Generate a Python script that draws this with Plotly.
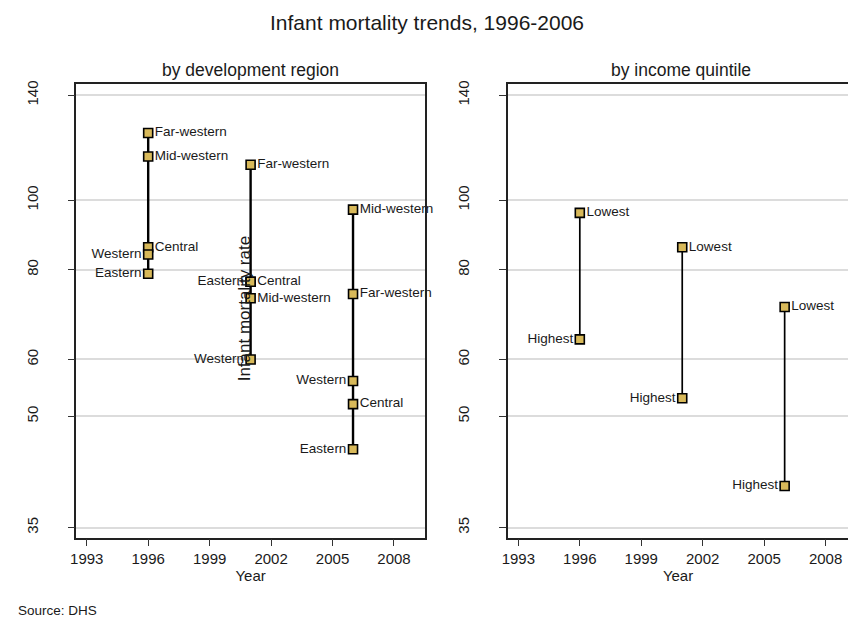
import plotly.graph_objects as go
import math

# ---------------- data ----------------
years = [1996, 2001, 2006]
regions = ["Eastern", "Central", "Western", "Mid-western", "Far-western"]
region_imr_1996 = [79, 86, 84, 115, 124]
region_imr_2001 = [77, 77, 60, 73, 112]
region_imr_2006 = [45, 52, 56, 97, 74]

quintiles = ["Lowest", "Highest"]
quintile_imr_1996 = [96, 64]
quintile_imr_2001 = [86, 53]
quintile_imr_2006 = [71, 40]

y_tickvals = [35, 50, 60, 80, 100, 140]
x_tickvals = [1993, 1996, 1999, 2002, 2005, 2008]

# label placement (style): which labels sit left of the marker
left_labels = {
    (1996, "Western"), (1996, "Eastern"),
    (2001, "Eastern"), (2001, "Western"),
    (2006, "Western"), (2006, "Eastern"),
    (1996, "Highest"), (2001, "Highest"), (2006, "Highest"),
}

FONT = "Liberation Sans, Arial, sans-serif"
W, H = 848, 624
MARK_FILL = "#d8b95a"
TXT = "#1a1a1a"

def px_x(p):
    return p / W

def px_y(p):
    return 1 - p / H

fig = go.Figure()

def add_panel(xref, yref, cats, series, lw):
    for yr, vals in zip(years, series):
        fig.add_trace(go.Scatter(
            x=[yr, yr], y=[min(vals), max(vals)], mode="lines",
            line=dict(color="black", width=lw), xaxis=xref, yaxis=yref,
            showlegend=False, hoverinfo="skip"))
        for side in ("right", "left"):
            xs, ys, ts = [], [], []
            for c, v in zip(cats, vals):
                is_left = (yr, c) in left_labels
                if (side == "left") == is_left:
                    xs.append(yr); ys.append(v); ts.append(c)
            if not xs:
                continue
            fig.add_trace(go.Scatter(
                x=xs, y=ys, text=ts, mode="markers+text",
                textposition="middle " + side, cliponaxis=False,
                textfont=dict(family=FONT, size=13.5, color=TXT),
                marker=dict(symbol="square", size=9, color=MARK_FILL,
                            line=dict(color="black", width=1.6)),
                xaxis=xref, yaxis=yref, showlegend=False))

add_panel("x", "y", regions, [region_imr_1996, region_imr_2001, region_imr_2006], 2.4)
add_panel("x2", "y2", quintiles, [quintile_imr_1996, quintile_imr_2001, quintile_imr_2006], 1.7)

px_per_year = (421.7 - 71) / 17.0
x2_max = 1992.5 + (W - 505.7) / px_per_year
yr_lo, yr_hi = math.log10(33.9), math.log10(144.9)

common_x = dict(
    tickvals=x_tickvals, ticks="outside", ticklen=7, tickwidth=1, tickcolor="#333",
    showgrid=False, zeroline=False, showline=True, linecolor="#222", linewidth=1.5,
    tickfont=dict(family=FONT, size=15, color=TXT),
    title=dict(text="Year", font=dict(family=FONT, size=15, color=TXT), standoff=0),
)
common_y = dict(
    type="log", range=[yr_lo, yr_hi], tickvals=y_tickvals,
    ticktext=[str(v) for v in y_tickvals], tickangle=-90,
    ticks="outside", ticklen=7, tickwidth=1, tickcolor="#333",
    showgrid=True, gridcolor="#dcdcdc", gridwidth=1.5, zeroline=False,
    showline=True, linecolor="#222", linewidth=1.5,
    tickfont=dict(family=FONT, size=15, color=TXT),
    ticklabelstandoff=24,
)

fig.update_layout(
    width=W, height=H, margin=dict(l=0, r=0, t=0, b=0),
    paper_bgcolor="white", plot_bgcolor="white",
    xaxis=dict(domain=[px_x(71), px_x(421.7)], range=[1992.5, 2009.5], mirror=True,
               anchor="y", **common_x),
    yaxis=dict(domain=[px_y(537), px_y(81)], mirror=True, anchor="x", **common_y),
    xaxis2=dict(domain=[px_x(505.7), 1.0], range=[1992.5, x2_max], mirror=True,
                anchor="y2", **common_x),
    yaxis2=dict(domain=[px_y(537), px_y(81)], mirror=False, anchor="x2", **common_y),
    annotations=[
        dict(text="Infant mortality trends, 1996-2006", x=px_x(424), y=px_y(19),
             xref="paper", yref="paper", showarrow=False, xanchor="center", yanchor="middle",
             font=dict(family=FONT, size=21, color=TXT)),
        dict(text="by development region", x=px_x(246), y=px_y(66),
             xref="paper", yref="paper", showarrow=False, xanchor="center", yanchor="middle",
             font=dict(family=FONT, size=17.5, color=TXT)),
        dict(text="by income quintile", x=px_x(680), y=px_y(66),
             xref="paper", yref="paper", showarrow=False, xanchor="center", yanchor="middle",
             font=dict(family=FONT, size=17.5, color=TXT)),
        dict(text="Infant mortality rate", x=px_x(240), y=px_y(306), textangle=-90,
             xref="paper", yref="paper", showarrow=False, xanchor="center", yanchor="middle",
             font=dict(family=FONT, size=17, color=TXT)),
        dict(text="Source: DHS", x=px_x(10), y=px_y(610),
             xref="paper", yref="paper", showarrow=False, xanchor="left", yanchor="middle",
             font=dict(family=FONT, size=13.5, color=TXT)),
    ],
)

fig.write_html("out.html", config={"displayModeBar": False},
               post_script="document.body.style.margin='0';document.body.style.padding='0';")
